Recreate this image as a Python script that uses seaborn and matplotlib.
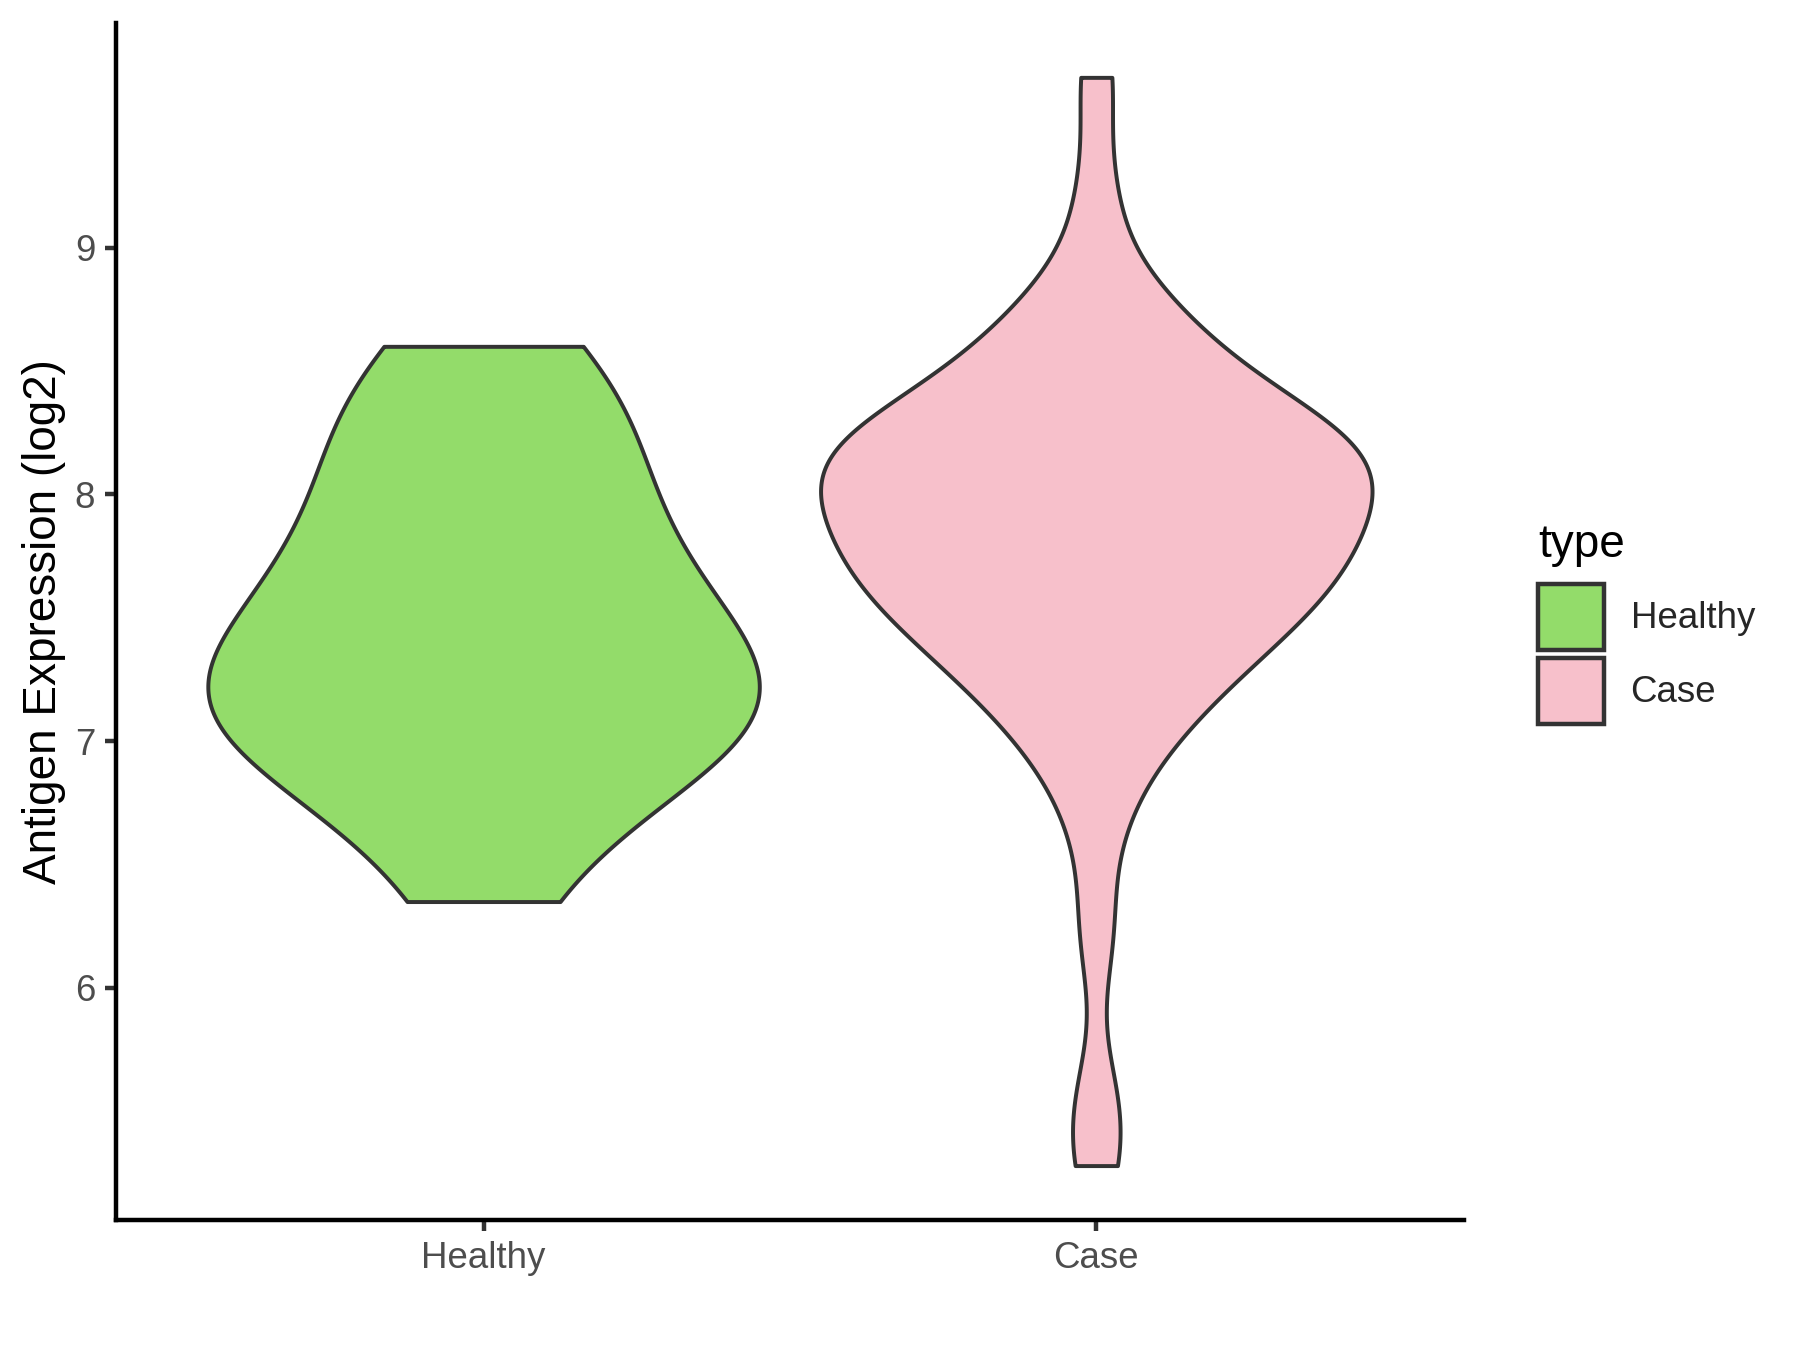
import numpy as np
import pandas as pd
import matplotlib
matplotlib.use("Agg")
import matplotlib.pyplot as plt
from matplotlib.patches import Patch
import seaborn as sns

# valores (log2)
healthy = [6.35, 6.78, 6.9, 7.0, 7.1, 7.2, 7.25, 7.35, 7.5, 7.65,
           7.8, 8.0, 8.2, 8.4, 8.6]
case = [5.28, 5.55, 6.22, 6.65, 6.9, 7.0, 7.1, 7.18, 7.24, 7.3,
        7.34, 7.4, 7.44, 7.48, 7.52, 7.55, 7.58, 7.62, 7.65, 7.68,
        7.71, 7.74, 7.77, 7.8, 7.83, 7.86, 7.89, 7.92, 7.95, 7.98,
        8.01, 8.04, 8.07, 8.1, 8.13, 8.16, 8.18, 8.19, 8.21, 8.23,
        8.26, 8.29, 8.31, 8.34, 8.38, 8.5, 8.55, 8.6, 8.66, 8.75,
        8.85, 9.2, 9.69]
groups = ["Healthy", "Case"]
colors = ["#93DC6A", "#F7C0CB"]

df = pd.DataFrame({
    "type": ["Healthy"] * len(healthy) + ["Case"] * len(case),
    "value": healthy + case,
})


# banda igual ao bw.nrd0 do R
def nrd0(kde):
    x = kde.dataset[0]
    sd = x.std(ddof=1)
    q25, q75 = np.percentile(x, [25, 75])
    lo = min(sd, (q75 - q25) / 1.34)
    return 0.9 * lo * len(x) ** -0.2 / sd


sns.set_style("ticks")
plt.rcParams["font.family"] = ["Liberation Sans", "DejaVu Sans"]

fig = plt.figure(figsize=(6, 4.5), dpi=300)
ax = fig.add_axes([0.0644, 0.0963, 0.7489, 0.8867])

sns.violinplot(data=df, x="type", y="value", hue="type", order=groups,
               hue_order=groups, palette=colors, saturation=1, cut=0,
               inner=None, width=0.9, density_norm="width", bw_method=nrd0,
               gridsize=512, linewidth=0.95, linecolor="#333333",
               legend=False, ax=ax)

# eixos no estilo theme_classic
vmin, vmax = min(df["value"]), max(df["value"])
pad = 0.05 * (vmax - vmin)
ax.set_ylim(vmin - pad, vmax + pad)
ax.set_xlim(-0.6, 1.6)
ax.set_yticks([6, 7, 8, 9])
ax.set_xlabel("")
ax.set_ylabel("Antigen Expression (log2)", fontsize=11, color="black",
              labelpad=2.2)
sns.despine(ax=ax)
for s in ["left", "bottom"]:
    ax.spines[s].set_linewidth(1.07)
    ax.spines[s].set_color("black")
ax.tick_params(axis="both", length=2.75, width=1.07, color="#333333",
               labelsize=8.8, labelcolor="#4D4D4D", pad=2.2)

# legenda
fig.text(0.8545, 0.5874, "type", fontsize=11, color="black", va="baseline")
handles = [Patch(facecolor=c, edgecolor="#333333", linewidth=1.07) for c in colors]
fig.legend(handles, groups, loc="upper left", bbox_to_anchor=(0.8545, 0.5674),
           frameon=False, fontsize=8.8, handlelength=1.8, handleheight=2.4,
           labelspacing=0.2, handletextpad=0.72, borderaxespad=0,
           borderpad=0)

fig.savefig("out.png", dpi=300)
